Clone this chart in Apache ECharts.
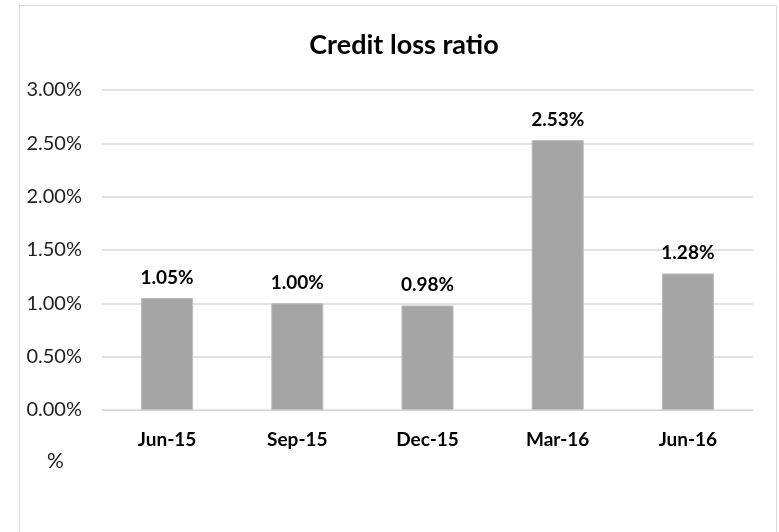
<!DOCTYPE html>
<html>
<head>
<meta charset="utf-8">
<script src="https://cdn.jsdelivr.net/npm/echarts@6/dist/echarts.min.js"></script>
<style>
  html, body { margin: 0; padding: 0; background: #fff; }
  #chart { width: 779px; height: 532px; }
</style>
</head>
<body>
<div id="chart"></div>
<script>
// Quarter-end periods and the credit loss ratio (%) for each
const periods = ['Jun-15', 'Sep-15', 'Dec-15', 'Mar-16', 'Jun-16'];
const creditLossRatio = [1.05, 1.00, 0.98, 2.53, 1.28];
const seriesName = '%';
const chartTitle = 'Credit loss ratio';

const FONT = 'Lato, "Open Sans", "DejaVu Sans", sans-serif';

const chart = echarts.init(document.getElementById('chart'), null, { renderer: 'canvas' });

chart.setOption({
  animation: false,
  backgroundColor: '#ffffff',
  textStyle: { fontFamily: FONT },
  title: {
    text: chartTitle,
    left: 399,
    textAlign: 'center',
    top: 27,
    textStyle: { fontFamily: FONT, fontWeight: 'bold', fontSize: 27, color: '#000' }
  },
  legend: {
    data: [{ name: seriesName, icon: 'none' }],
    left: 37,
    top: 446,
    itemWidth: 0,
    itemGap: 0,
    selectedMode: false,
    textStyle: { fontFamily: FONT, fontSize: 21, color: '#222' }
  },
  graphic: [{
    type: 'rect',
    shape: { x: 19.5, y: 5.5, width: 757, height: 540 },
    style: { fill: 'none', stroke: '#d9d9d9', lineWidth: 1 },
    silent: true
  }],
  grid: { left: 102, right: 26, top: 90, bottom: 122, containLabel: false },
  xAxis: {
    type: 'category',
    data: periods,
    axisLine: { show: true, lineStyle: { color: '#d9d9d9', width: 1 } },
    axisTick: { show: false },
    axisLabel: { fontFamily: FONT, fontWeight: 'bold', fontSize: 19, color: '#000', margin: 20 }
  },
  yAxis: {
    type: 'value',
    min: 0,
    max: 3,
    interval: 0.5,
    axisLine: { show: false },
    axisTick: { show: false },
    splitLine: { lineStyle: { color: '#d9d9d9', width: 1.5 } },
    axisLabel: {
      fontFamily: FONT, fontSize: 20, color: '#222', margin: 20,
      formatter: v => v.toFixed(2) + '%'
    }
  },
  series: [{
    name: seriesName,
    type: 'bar',
    data: creditLossRatio,
    barCategoryGap: '60%',
    itemStyle: { color: '#a5a5a5', borderColor: '#bdbdbd', borderWidth: 1 },
    label: {
      show: true,
      position: 'top',
      distance: 11,
      fontFamily: FONT, fontWeight: 'bold', fontSize: 19, color: '#000',
      formatter: p => p.value.toFixed(2) + '%'
    }
  }]
});
</script>
</body>
</html>
